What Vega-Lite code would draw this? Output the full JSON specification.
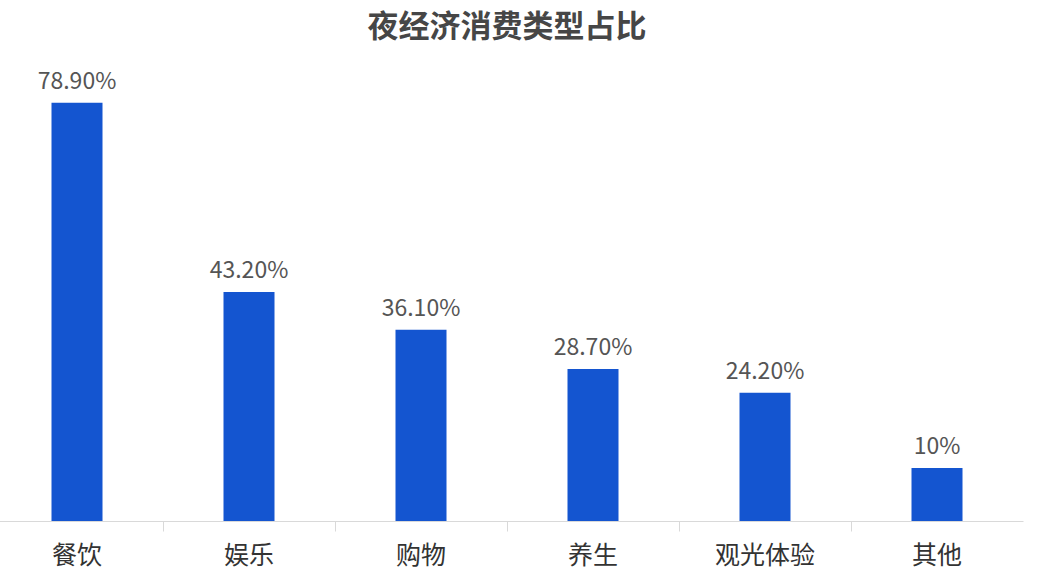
{
  "$schema": "https://vega.github.io/schema/vega-lite/v6.json",
  "width": 1032,
  "height": 477,
  "autosize": {"type": "none"},
  "padding": {"left": -9, "top": 44, "right": 23, "bottom": 57},
  "background": "white",
  "config": {"font": "Noto Sans CJK SC", "view": {"stroke": null}},
  "title": {
    "text": "夜经济消费类型占比",
    "fontSize": 31,
    "fontWeight": "bold",
    "color": "#464646",
    "anchor": "middle",
    "offset": 0
  },
  "data": {
    "values": [
      {"category": "餐饮", "value": 78.9, "label": "78.90%"},
      {"category": "娱乐", "value": 43.2, "label": "43.20%"},
      {"category": "购物", "value": 36.1, "label": "36.10%"},
      {"category": "养生", "value": 28.7, "label": "28.70%"},
      {"category": "观光体验", "value": 24.2, "label": "24.20%"},
      {"category": "其他", "value": 10, "label": "10%"}
    ]
  },
  "encoding": {
    "x": {
      "field": "category",
      "type": "nominal",
      "sort": null,
      "scale": {"paddingInner": 0, "paddingOuter": 0},
      "axis": {
        "title": null,
        "labelAngle": 0,
        "bandPosition": 0,
        "labelFontSize": 25,
        "labelColor": "#333333",
        "labelPadding": 12,
        "domainColor": "#d9d9d9",
        "tickColor": "#d9d9d9",
        "tickSize": 10
      }
    },
    "y": {
      "field": "value",
      "type": "quantitative",
      "scale": {"domain": [0, 90]},
      "axis": null
    }
  },
  "layer": [
    {"mark": {"type": "bar", "width": 51, "color": "#1455d0"}},
    {
      "mark": {"type": "text", "baseline": "bottom", "dy": -9, "fontSize": 23, "color": "#555555"},
      "encoding": {"text": {"field": "label", "type": "nominal"}}
    }
  ]
}
